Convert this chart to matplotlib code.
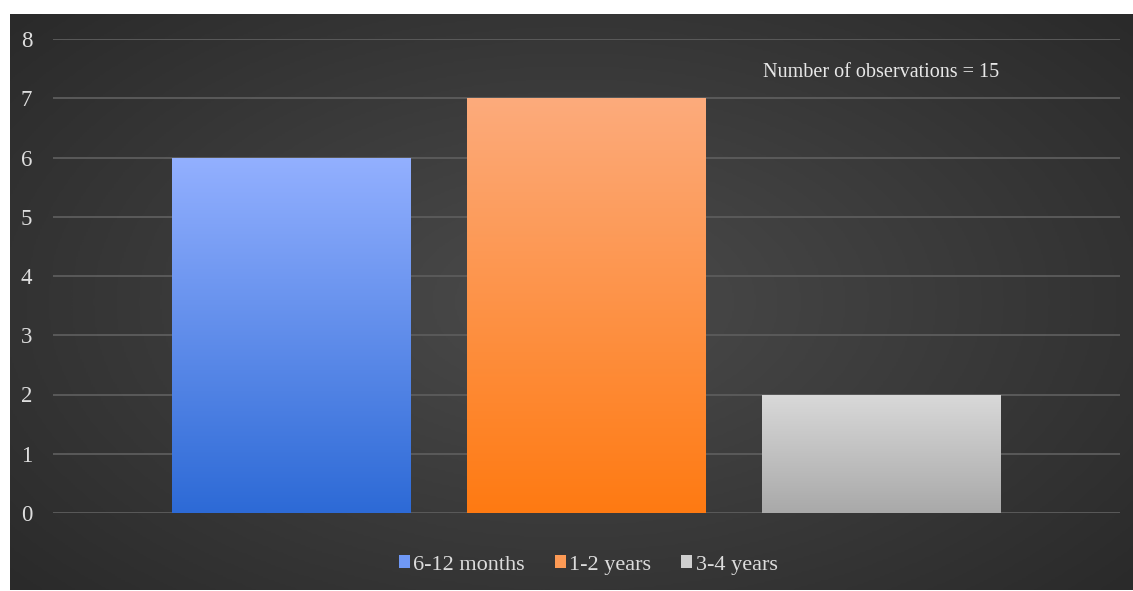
import numpy as np
import matplotlib.pyplot as plt
from matplotlib.patches import Patch
from matplotlib.colors import LinearSegmentedColormap

categories = ['6-12 months', '1-2 years', '3-4 years']
counts = [6, 7, 2]
top_colors = ['#93b0ff', '#fcab7c', '#d9d9d9']
bottom_colors = ['#2d6ad6', '#ff7a12', '#a9a9a9']
legend_colors = ['#6f98f5', '#fd9a55', '#cfcfcf']
note = 'Number of observations = 15'

plt.rcParams['font.family'] = ['Liberation Serif', 'DejaVu Serif']

W, H = 1133, 591
fig = plt.figure(figsize=(W / 100, H / 100), dpi=100, facecolor='white')

# dark background with a soft radial highlight
bg = fig.add_axes([10 / W, 1 / H, 1123 / W, 576 / H])
yy, xx = np.mgrid[-1:1:300j, -1:1:600j]
r = np.sqrt((xx * 0.9) ** 2 + (yy * 0.8) ** 2)
shade = np.clip(1 - r / 1.25, 0, 1)
bg_cmap = LinearSegmentedColormap.from_list('bg', ['#2a2a2a', '#4b4b4b'])
bg.imshow(shade, cmap=bg_cmap, aspect='auto', interpolation='bilinear')
bg.axis('off')

ax = fig.add_axes([53 / W, 78 / H, (1120 - 53) / W, (552 - 78) / H])
ax.patch.set_alpha(0)
x = np.arange(len(categories))
bars = ax.bar(x, counts, width=0.81, color='none', zorder=3)

grad = np.linspace(1, 0, 256).reshape(-1, 1)
for bar, c_top, c_bot in zip(bars, top_colors, bottom_colors):
    cm = LinearSegmentedColormap.from_list('g', [c_bot, c_top])
    x0, y0 = bar.get_x(), bar.get_y()
    im = ax.imshow(grad, cmap=cm, aspect='auto', zorder=3,
                   extent=[x0, x0 + bar.get_width(), y0, y0 + bar.get_height()])
    im.set_clip_path(bar)

ax.set_xlim(-0.81, 2.81)
ax.set_ylim(0, 8)
ax.set_yticks(range(0, 9))
ax.set_xticks([])
ax.grid(axis='y', color='#5a5a5a', linewidth=1.4, zorder=0)
for s in ax.spines.values():
    s.set_visible(False)
ax.tick_params(axis='y', length=0, pad=15, labelsize=16.5, labelcolor='#dedede')

ax.text(0.776, 0.93, note, transform=ax.transAxes, ha='center', va='center',
        fontsize=14.5, color='#e8e8e8')

handles = [Patch(facecolor=c) for c in legend_colors]
fig.legend(handles, categories, loc='center', bbox_to_anchor=(588 / W, 26 / H),
           ncol=3, frameon=False, fontsize=16, labelcolor='#dcdcdc',
           handlelength=0.5, handleheight=0.5, handletextpad=0.15,
           columnspacing=1.35)

fig.savefig('out.png', dpi=100, facecolor='white')
